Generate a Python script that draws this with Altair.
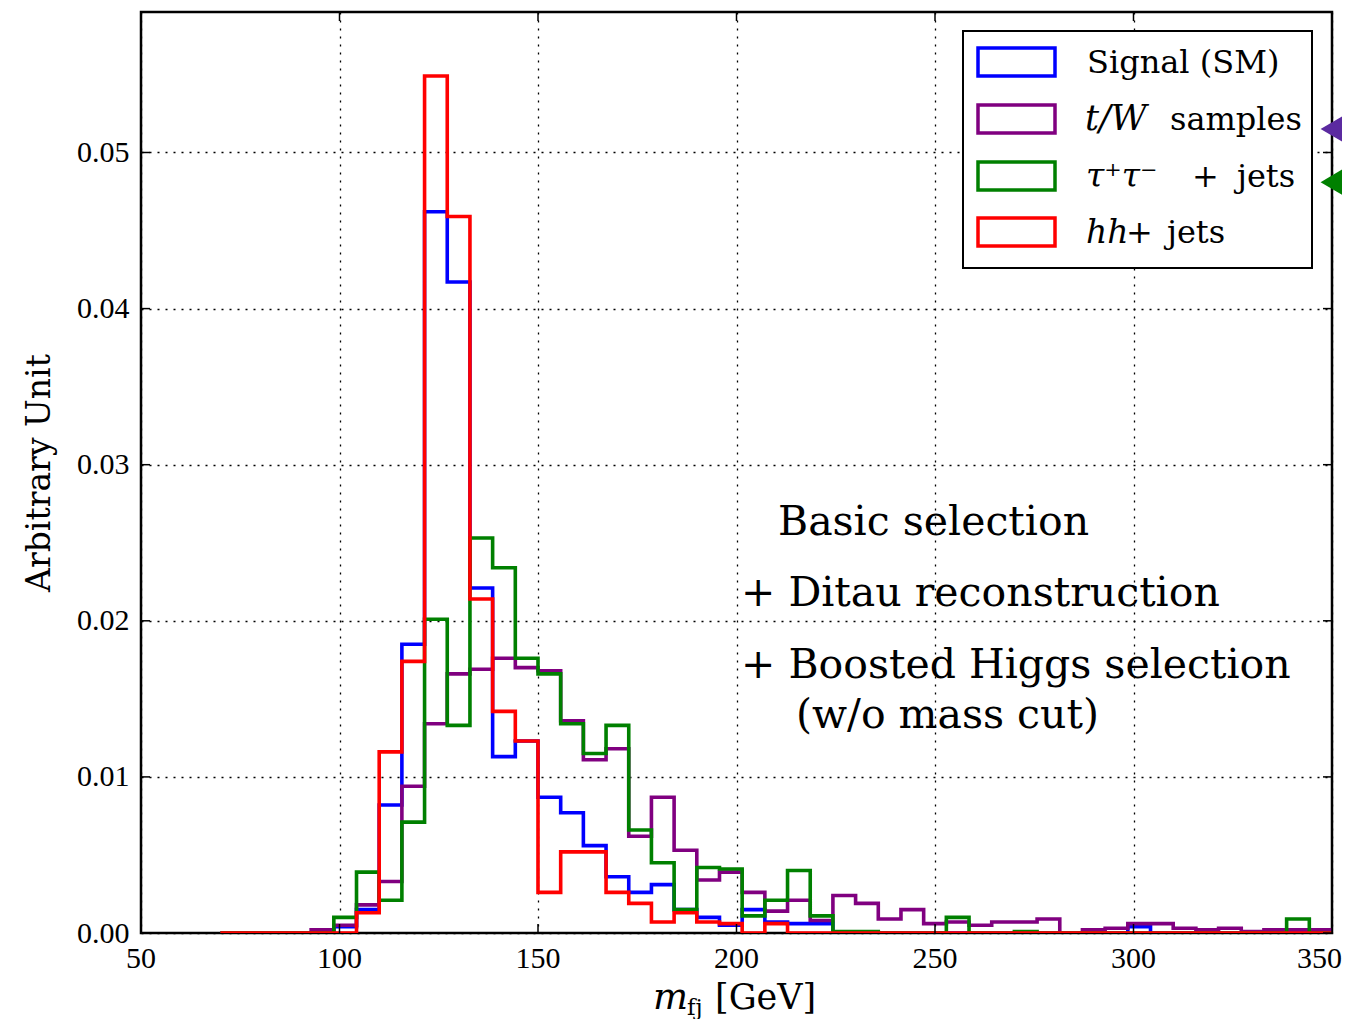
import altair as alt
import pandas as pd

# ---------------- data ----------------
bin_start = 70.0
bin_stop = 350.0
n_bins = 49

signal_sm = [0, 0, 0, 0, 0, 0.0004, 0.0015, 0.0082, 0.0185, 0.0462,
             0.0417, 0.0221, 0.0113, 0.0123, 0.0087, 0.0077, 0.0056, 0.0036, 0.0026, 0.0031,
             0.0015, 0.0010, 0.0005, 0.0015, 0.0007, 0.0006, 0.0006, 0, 0, 0,
             0, 0, 0, 0, 0, 0, 0, 0, 0, 0,
             0.0004, 0, 0, 0, 0, 0, 0, 0, 0]
tw_samples = [0, 0, 0, 0, 0.0002, 0.0005, 0.0018, 0.0033, 0.0094, 0.0134,
              0.0166, 0.0169, 0.0176, 0.0170, 0.0168, 0.0136, 0.0111, 0.0118, 0.0062, 0.0087,
              0.0053, 0.0034, 0.0039, 0.0026, 0.0014, 0.0021, 0.0008, 0.0024, 0.0019, 0.0009,
              0.0015, 0.0006, 0.0007, 0.0005, 0.0007, 0.0007, 0.0009, 0.0000, 0.0002, 0.0003,
              0.0006, 0.0006, 0.0003, 0.0002, 0.0003, 0.0001, 0.0002, 0.0002, 0.0002]
tautau_jets = [0, 0, 0, 0, 0, 0.0010, 0.0039, 0.0021, 0.0071, 0.0201,
               0.0133, 0.0253, 0.0234, 0.0176, 0.0166, 0.0134, 0.0115, 0.0133, 0.0066, 0.0045,
               0.0015, 0.0042, 0.0041, 0.0011, 0.0021, 0.0040, 0.0011, 0.0001, 0.0001, 0,
               0, 0, 0.0010, 0, 0, 0.0001, 0, 0, 0, 0,
               0, 0, 0, 0, 0, 0, 0, 0.0009, 0]
hh_jets = [0, 0, 0, 0, 0, 0, 0.0013, 0.0116, 0.0174, 0.0549,
           0.0459, 0.0214, 0.0142, 0.0123, 0.0026, 0.0052, 0.0052, 0.0026, 0.0019, 0.0007,
           0.0013, 0.0007, 0.0006, 0, 0.0006, 0, 0, 0, 0, 0,
           0, 0, 0, 0, 0, 0, 0, 0, 0, 0,
           0, 0, 0, 0, 0, 0, 0, 0, 0]

series_names = ["Signal (SM)", "t/W samples", "tautau + jets", "hh + jets"]
series_values = [signal_sm, tw_samples, tautau_jets, hh_jets]
series_colors = ["#0000ff", "#800080", "#008000", "#ff0000"]

x_ticks = [50, 100, 150, 200, 250, 300, 350]
y_ticks = [0.0, 0.01, 0.02, 0.03, 0.04, 0.05]

arrow_names = ["t/W samples", "tautau + jets"]
arrow_colors = ["#5b2aa0", "#008000"]
arrow_y = [0.0515, 0.0481]
arrow_x = [350.9, 350.9]

annotation_lines = ["Basic selection", "+ Ditau reconstruction",
                    "+ Boosted Higgs selection", "(w/o mass cut)"]

# ---------------- layout ----------------
W, H = 1191, 921
PAD_L, PAD_T = 133, 4
SERIF = "DejaVu Serif"
NUMF = "Liberation Serif"

xscale = alt.Scale(domain=[50, 350], nice=False, zero=False)
yscale = alt.Scale(domain=[0, 0.059], nice=False, zero=True)
xaxis = alt.Axis(values=x_ticks, labels=False, title=None)
yaxis = alt.Axis(values=y_ticks, format=".2f", title=None)


def X(f="x"):
    return alt.X(f"{f}:Q", scale=xscale, axis=xaxis, title=None)


def Y(f="y"):
    return alt.Y(f"{f}:Q", scale=yscale, axis=yaxis, title=None)


def step_frame(vals):
    w = (bin_stop - bin_start) / n_bins
    xs, ys = [bin_start], [0.0]
    for i, v in enumerate(vals):
        xs += [bin_start + i * w, bin_start + (i + 1) * w]
        ys += [v, v]
    xs.append(bin_stop)
    ys.append(0.0)
    return pd.DataFrame({"x": xs, "y": ys, "o": list(range(len(xs)))})


one = pd.DataFrame({"a": [0]})

layers = []

# histograms (step outlines)
for name, vals, col in zip(series_names, series_values, series_colors):
    layers.append(
        alt.Chart(step_frame(vals)).mark_line(color=col, strokeWidth=3.6, strokeJoin="miter",
                                               clip=True).encode(
            x=X(), y=Y(), order="o:Q",
        )
    )

# inward ticks on all four sides
tk = dict(color="black", strokeWidth=1.5)
layers.append(alt.Chart(pd.DataFrame({"x": x_ticks})).mark_rule(**tk).encode(
    x=X(), y=alt.value(H), y2=alt.value(H - 9)))
layers.append(alt.Chart(pd.DataFrame({"x": x_ticks})).mark_rule(**tk).encode(
    x=X(), y=alt.value(0), y2=alt.value(9)))
layers.append(alt.Chart(pd.DataFrame({"y": y_ticks})).mark_rule(**tk).encode(
    y=Y(), x=alt.value(0), x2=alt.value(9)))
layers.append(alt.Chart(pd.DataFrame({"y": y_ticks})).mark_rule(**tk).encode(
    y=Y(), x=alt.value(W), x2=alt.value(W - 9)))

# x tick labels (last one kept inside the page)
xl = pd.DataFrame({"x": x_ticks, "t": [str(v) for v in x_ticks]})
layers.append(alt.Chart(xl.iloc[:-1]).mark_text(font=NUMF, fontSize=30, align="center",
                                                baseline="alphabetic", color="black").encode(
    x=X(), y=alt.value(H + 35), text="t:N"))
layers.append(alt.Chart(xl.iloc[-1:]).mark_text(font=NUMF, fontSize=30, align="right", dx=10,
                                                baseline="alphabetic", color="black").encode(
    x=X(), y=alt.value(H + 35), text="t:N"))

# overflow arrows at the right edge
arrows = pd.DataFrame({"name": arrow_names, "x": arrow_x, "y": arrow_y, "c": arrow_colors})
layers.append(alt.Chart(arrows).mark_point(shape="M-1,0L1,-1.17L1,1.17Z", size=900, filled=True,
                                           opacity=1, clip=False).encode(
    x=X(), y=Y(), color=alt.Color("c:N", scale=None),
))

# legend box
LX0, LX1, LY0, LY1 = 822, 1171, 19, 256
layers.append(alt.Chart(one).mark_rect(fill="white", stroke="black", strokeWidth=2).encode(
    x=alt.value(LX0), x2=alt.value(LX1), y=alt.value(LY0), y2=alt.value(LY1)))

row_c = [50, 107, 164, 220]
for i, col in enumerate(series_colors):
    layers.append(alt.Chart(one).mark_rect(fill="white", stroke=col, strokeWidth=3.5).encode(
        x=alt.value(837), x2=alt.value(914), y=alt.value(row_c[i] - 14), y2=alt.value(row_c[i] + 14)))

legend_parts = [
    (0, "Signal (SM)", 946, "normal", 32),
    (1, "t/W", 944, "italic", 35),
    (1, "samples", 1029, "normal", 32),
    (2, "τ⁺τ⁻", 945, "italic", 33),
    (2, "+", 1051, "normal", 32),
    (2, "jets", 1096, "normal", 32),
    (3, "hh", 945, "italic", 33),
    (3, "+", 985, "normal", 32),
    (3, "jets", 1026, "normal", 32),
]
for r, txt, px, st, fs in legend_parts:
    layers.append(alt.Chart(one).mark_text(text=txt, font=SERIF, fontSize=fs, fontStyle=st,
                                           align="left", baseline="alphabetic", color="black").encode(
        x=alt.value(px), y=alt.value(row_c[r] + 11)))

# annotation text
ann_pos = [(637, 523), (600, 594), (600, 666), (655, 716)]
for txt, (px, py) in zip(annotation_lines, ann_pos):
    layers.append(alt.Chart(one).mark_text(text=txt, font=SERIF, fontSize=41, align="left",
                                           baseline="alphabetic", color="black").encode(
        x=alt.value(px), y=alt.value(py)))

# axis titles
layers.append(alt.Chart(one).mark_text(text="Arbitrary Unit", font=SERIF, fontSize=33, angle=270,
                                       align="center", baseline="middle", color="black").encode(
    x=alt.value(-101), y=alt.value(461)))
layers.append(alt.Chart(one).mark_text(text="m", font=SERIF, fontSize=37, fontStyle="italic",
                                       align="left", baseline="alphabetic", color="black").encode(
    x=alt.value(512), y=alt.value(997)))
layers.append(alt.Chart(one).mark_text(text="fj", font=SERIF, fontSize=23,
                                       align="left", baseline="alphabetic", color="black").encode(
    x=alt.value(546), y=alt.value(1003)))
layers.append(alt.Chart(one).mark_text(text="[GeV]", font=SERIF, fontSize=35,
                                       align="left", baseline="alphabetic", color="black").encode(
    x=alt.value(574), y=alt.value(997)))

chart = alt.layer(*layers).properties(
    width=W, height=H,
    autosize=alt.AutoSizeParams(type="none"),
    padding={"left": PAD_L, "top": PAD_T, "right": 10, "bottom": 86},
    background="white",
).configure_view(
    stroke="black", strokeWidth=2.5,
).configure_axis(
    domain=False, ticks=False, grid=True, gridColor="black", gridDash=[2, 6],
    gridWidth=1.3, gridOpacity=1,
    labelFont=NUMF, labelFontSize=30, labelColor="black",
).configure_axisY(labelPadding=12)

chart.save("out.html", embed_options={"renderer": "svg", "actions": False})
